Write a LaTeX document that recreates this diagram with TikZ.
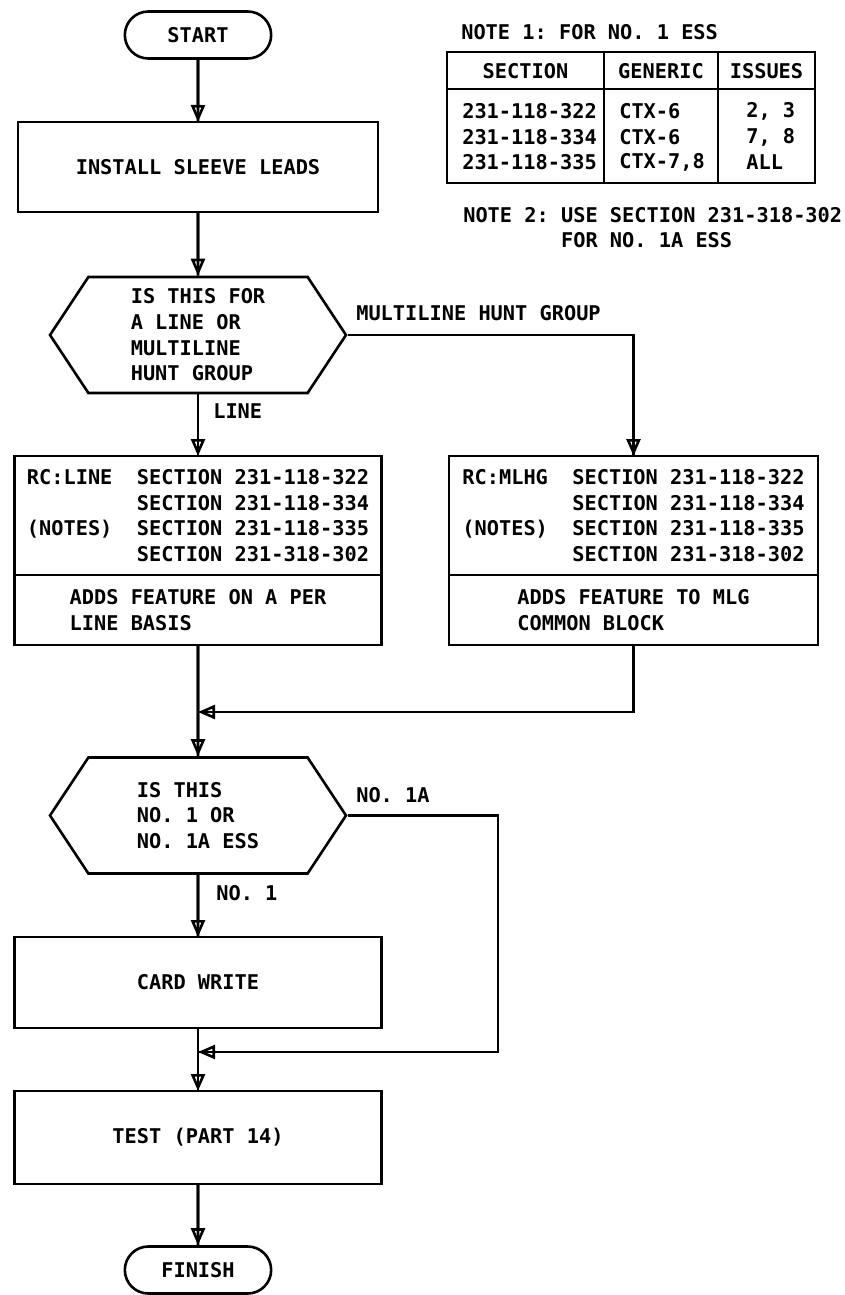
\documentclass[tikz,border=0pt]{standalone}
\usepackage{fontspec}
\newfontfamily\flowfont{DejaVu Sans Mono Bold}
\usetikzlibrary{shapes.misc,shapes.symbols,arrows.meta}

\begin{document}
\begin{tikzpicture}[x=1pt, y=1pt, line width=2.6pt,
    every node/.style={font=\flowfont\fontsize{20.3}{25.7}\selectfont\frenchspacing},
    term/.style={draw, rounded rectangle, minimum width=153pt, minimum height=47pt},
    procbox/.style={draw, rectangle, outer sep=0pt, minimum width=367pt},
    decision/.style={draw, signal, signal to=east and west, signal pointer angle=113,
        minimum width=296pt, minimum height=116pt, align=left},
    flow/.style={postaction={draw, -{Triangle[open, length=17pt, width=14pt]}}},
    lbl/.style={inner sep=0pt, anchor=west}]
    % 0. 画布范围
    \useasboundingbox (0,0) rectangle (844,-1295);
    % 1. 主流程节点 (竖直一列)
    \node[term] (start) at (198,-35) {START};
    \node[procbox, minimum width=360pt, minimum height=90pt] (install) at (198,-167) {INSTALL SLEEVE LEADS};
    \node[decision] (hexone) at (198,-335) {IS THIS FOR\\A LINE OR\\MULTILINE\\HUNT GROUP};
    % 2. 两个 RC 方框 (上下两格)
    \node[procbox, minimum height=119pt, align=left] (rcline) at (198,-515.5) {
        RC:LINE\ \ SECTION 231-118-322\\
        \hphantom{RC:LINE\ \ }SECTION 231-118-334\\
        (NOTES)\ \ SECTION 231-118-335\\
        \hphantom{RC:LINE\ \ }SECTION 231-318-302};
    \node[procbox, minimum height=70pt, align=left, anchor=north] (rclinenote) at (rcline.south) {
        ADDS FEATURE ON A PER\\LINE BASIS};
    \node[procbox, minimum width=369pt, minimum height=119pt, align=left] (rcmlhg) at (633.5,-515.5) {
        RC:MLHG\ \ SECTION 231-118-322\\
        \hphantom{RC:MLHG\ \ }SECTION 231-118-334\\
        (NOTES)\ \ SECTION 231-118-335\\
        \hphantom{RC:MLHG\ \ }SECTION 231-318-302};
    \node[procbox, minimum width=369pt, minimum height=70pt, align=left, anchor=north] (rcmlhgnote) at (rcmlhg.south) {
        ADDS FEATURE TO MLG\\COMMON BLOCK};
    % 3. 第二个判断及其后
    \node[decision] (hextwo) at (198,-815.5) {IS THIS\\NO. 1 OR\\NO. 1A ESS};
    \node[procbox, minimum height=91pt] (card) at (198,-982.5) {CARD WRITE};
    \node[procbox, minimum height=93pt] (test) at (198,-1137.5) {TEST (PART 14)};
    \node[term] (finish) at (198,-1270) {FINISH};
    % 汇合点
    \coordinate (mergeone) at (198,-712);
    \coordinate (bypass) at (498,-1052);
    \coordinate (mergetwo) at (198,-1052);
    % 4. 连线
    \draw[flow] (start) -- (install);
    \draw[flow] (install) -- (hexone);
    \draw[flow] (hexone) -- node[lbl, pos=0.27, right=14pt] (linelabel) {LINE} (rcline);
    \draw[flow] (hexone.east) -| (rcmlhg);
    \node[lbl] (mhglabel) at (355,-313) {MULTILINE HUNT GROUP};
    \draw[flow] (rclinenote) -- (hextwo);
    \draw[flow] (rcmlhgnote.south) |- (mergeone);
    \draw[flow] (hextwo) -- node[lbl, pos=0.29, right=17pt] (onelabel) {NO. 1} (card);
    \draw[flow] (hextwo.east) -| (bypass) -- (mergetwo);
    \node[lbl] (onealabel) at (355,-795) {NO. 1A};
    \draw[flow] (card) -- (test);
    \draw[flow] (test) -- (finish);
    % 5. 右上角注释表格
    \node[lbl] (noteone) at (460,-32) {NOTE 1: FOR NO. 1 ESS};
    \draw (447,-52) rectangle (815,-183);
    \draw (447,-89) -- (815,-89);
    \draw (604,-52) -- (604,-183);
    \draw (718,-52) -- (718,-183);
    \node (hsec) at (525.5,-71) {SECTION};
    \node (hgen) at (661,-71) {GENERIC};
    \node (hiss) at (766.5,-71) {ISSUES};
    \foreach \y/\sec/\gen/\iss [count=\i] in {111/231-118-322/CTX-6/{2, 3},
        137/231-118-334/CTX-6/{7, 8}, 162/231-118-335/{CTX-7,8}/ALL}{
        \node[lbl] (sec\i) at (461,-\y) {\sec};
        \node[lbl] (gen\i) at (618,-\y) {\gen};
        \node[lbl] (iss\i) at (745,-\y) {\iss};
    }
    \node[lbl, align=left] (notetwo) at (462,-227.5) {NOTE 2: USE SECTION 231-318-302\\\hphantom{NOTE 2: }FOR NO. 1A ESS};
\end{tikzpicture}
\end{document}
